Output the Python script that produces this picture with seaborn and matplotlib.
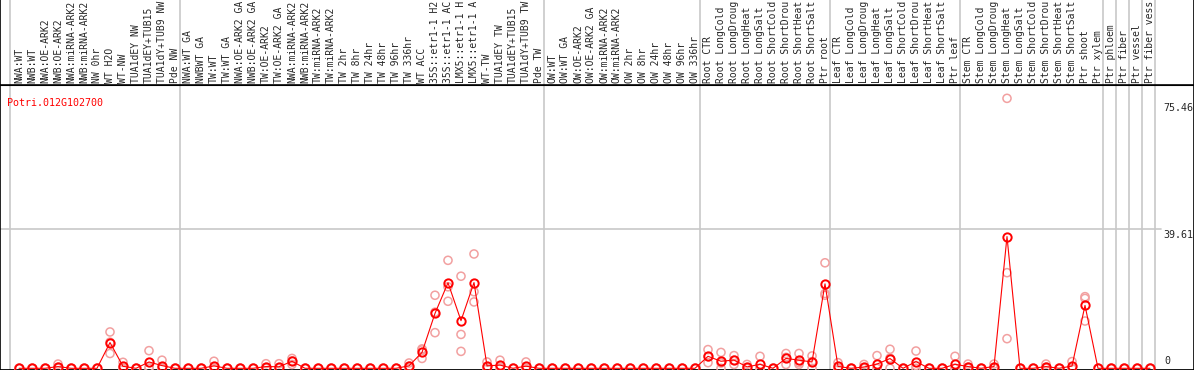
import seaborn as sns
import matplotlib.pyplot as plt
import pandas as pd
import numpy as np

# -----------------------
# Data
# -----------------------
gene = "Potri.012G102700"

# sample names as far as they are visible in the header
samples = [
    "NWA:WT", "NWB:WT", "NWA:OE-ARK2", "NWB:OE-ARK2", "NWA:miRNA-ARK2", "NWB:miRNA-ARK2",
    "NW 0hr", "WT H2O", "WT-NW", "TUA1dEY NW", "TUA1dEY+TUB15", "TUA1dY+TUB9 NW", "Pde NW",
    "NWA:WT GA", "NWBWT GA", "TW:WT", "TW:WT GA", "NWA:OE-ARK2 GA", "NWB:OE-ARK2 GA",
    "TW:OE-ARK2", "TW:OE-ARK2 GA", "NWA:miRNA-ARK2", "NWB:miRNA-ARK2", "TW:miRNA-ARK2",
    "TW:miRNA-ARK2", "TW 2hr", "TW 8hr", "TW 24hr", "TW 48hr", "TW 96hr", "TW 336hr",
    "WT ACC", "35S::etr1-1 H2", "35S::etr1-1 AC", "LMX5::etr1-1 H", "LMX5::etr1-1 A",
    "WT-TW", "TUA1dEY TW", "TUA1dEY+TUB15", "TUA1dY+TUB9 TW", "Pde TW",
    "OW:WT", "OW:WT GA", "OW:OE-ARK2", "OW:OE-ARK2 GA", "OW:miRNA-ARK2", "OW:miRNA-ARK2",
    "OW 2hr", "OW 8hr", "OW 24hr", "OW 48hr", "OW 96hr", "OW 336hr",
    "Root CTR", "Root LongCold", "Root LongDroug", "Root LongHeat", "Root LongSalt",
    "Root ShortCold", "Root ShortDrou", "Root ShortHeat", "Root ShortSalt", "Ptr root",
    "Leaf CTR", "Leaf LongCold", "Leaf LongDroug", "Leaf LongHeat", "Leaf LongSalt",
    "Leaf ShortCold", "Leaf ShortDrou", "Leaf ShortHeat", "Leaf ShortSalt", "Ptr leaf",
    "Stem CTR", "Stem LongCold", "Stem LongDroug", "Stem LongHeat", "Stem LongSalt",
    "Stem ShortCold", "Stem ShortDrou", "Stem ShortHeat", "Stem ShortSalt", "Ptr shoot",
    "Ptr xylem", "Ptr phloem", "Ptr fiber", "Ptr vessel", "Ptr fiber vess",
]

# three replicates per sample
rep1 = [0, 0, 0, 1.2, 0, 0, 0, 10.3, 1.7, 0, 5.0, 2.3, 0,
        0, 0, 2.0, 0, 0, 0, 1.3, 1.3, 2.8, 0, 0, 0, 0, 0, 0, 0, 0, 1.5,
        5.5, 20.7, 30.6, 26.1, 32.4, 1.8, 2.3, 0, 1.8, 0,
        0, 0, 0, 0, 0, 0, 0, 0, 0, 0, 0, 0,
        5.3, 4.5, 3.6, 1.1, 3.4, 0, 4.2, 4.2, 3.5, 29.9,
        1.6, 0, 1.1, 3.6, 5.4, 0, 4.9, 0, 0, 3.4,
        1.2, 0, 1.2, 76.5, 0, 0, 1.2, 0, 1.9, 20.3,
        0, 0, 0, 0, 0]
rep2 = [0, 0, 0, 0.3, 0, 0, 0, 7.4, 0, 0, 0.4, 0, 0,
        0, 0, 0, 0, 0, 0, 0.2, 0, 2.1, 0, 0, 0, 0, 0, 0, 0, 0, 0.6,
        5.2, 15.9, 23.1, 9.6, 21.7, 0.3, 0.4, 0, 0, 0,
        0, 0, 0, 0, 0, 0, 0, 0, 0, 0, 0, 0,
        3.3, 1.5, 2.3, 0.1, 0, 0, 3.1, 1.6, 1.9, 21.2,
        0, 0, 0, 0, 2.9, 0, 0.8, 0, 0, 0,
        0.3, 0, 0.3, 27.1, 0, 0, 0.3, 0, 0, 19.8,
        0, 0, 0, 0, 0]
rep3 = [0, 0, 0, 0, 0, 0, 0, 4.2, 0, 0, 0, 0, 0,
        0, 0, 0, 0, 0, 0, 0, 0, 1.1, 0, 0, 0, 0, 0, 0, 0, 0, 0,
        2.8, 10.1, 19.0, 4.8, 18.8, 0, 0, 0, 0, 0,
        0, 0, 0, 0, 0, 0, 0, 0, 0, 0, 0, 0,
        1.6, 0, 1.1, 0, 0, 0, 1.1, 1.1, 0, 20.7,
        0, 0, 0, 0, 0, 0, 0, 0, 0, 0,
        0, 0, 0, 8.4, 0, 0, 0, 0, 0, 13.4,
        0, 0, 0, 0, 0]

# last sample index of each group (separator lines drawn after these)
group_ends = [12, 40, 52, 62, 72, 83, 84, 85, 86, 87]
tick_values = [75.46, 39.61, 0]

n = len(samples)
df = pd.DataFrame({
    "pos": np.tile(np.arange(n), 3),
    "value": rep1 + rep2 + rep3,
})

# -----------------------
# Figure
# -----------------------
sns.set_style("white")
plt.rcParams["font.family"] = ["DejaVu Sans Mono"]

W, H = 1194, 370
fig = plt.figure(figsize=(W / 100, H / 100), dpi=100)
head_h = 85
ax = fig.add_axes([0, 0, 1, (H - head_h) / H])
hx = fig.add_axes([0, (H - head_h) / H, 1, head_h / H], sharex=ax)

x0, x1 = -19 / 13, (W - 19) / 13
ax.set_xlim(x0, x1)
ax.set_ylim(-0.48, 80.28)

red = "#ff0000"
pink = "#f2a0a0"

sns.scatterplot(data=df, x="pos", y="value", ax=ax, marker="o", s=34,
                facecolor="none", edgecolor=pink, linewidth=1.1, zorder=3)
sns.lineplot(data=df, x="pos", y="value", ax=ax, estimator="mean", errorbar=None,
             color=red, linewidth=0.8, marker="o", markersize=6,
             markerfacecolor="none", markeredgecolor=red, markeredgewidth=1.4, zorder=4)

# separators
seps = [-0.69] + [e + 0.41 for e in group_ends]
for s in seps:
    ax.axvline(s, color="#c8c8c8", lw=1.2, zorder=1)
    hx.axvline(s, color="#c8c8c8", lw=1.2, zorder=1)
ax.axhline(39.61, xmin=0, xmax=1161 / W, color="#c8c8c8", lw=1.2, zorder=1)

# value labels on the right
for v in tick_values:
    if v == 0:
        ax.text(1164 / 13 - 19 / 13, v + 0.6, "0", fontsize=7.2, ha="left", va="bottom")
    else:
        ax.text(1163 / 13 - 19 / 13, v - 0.4, f"{v:.2f}", fontsize=7.2, ha="left", va="top")

ax.text(0.006, 0.955, gene, transform=ax.transAxes, color=red, fontsize=7.2,
        ha="left", va="top")

# header with sample names
hx.set_ylim(0, head_h)
for i, name in enumerate(samples):
    hx.text(i, 2, name, rotation=90, ha="center", va="bottom", fontsize=7.0,
            clip_on=True)

for a in (ax, hx):
    a.set_xticks([])
    a.set_yticks([])
    a.set_xlabel("")
    a.set_ylabel("")
    for sp in a.spines.values():
        sp.set_color("black")
        sp.set_linewidth(1.2)
hx.spines["top"].set_visible(False)
ax.spines["top"].set_linewidth(1.5)
ax.spines["bottom"].set_linewidth(2)

plt.savefig("out.png", dpi=100, pad_inches=0)
plt.close()
